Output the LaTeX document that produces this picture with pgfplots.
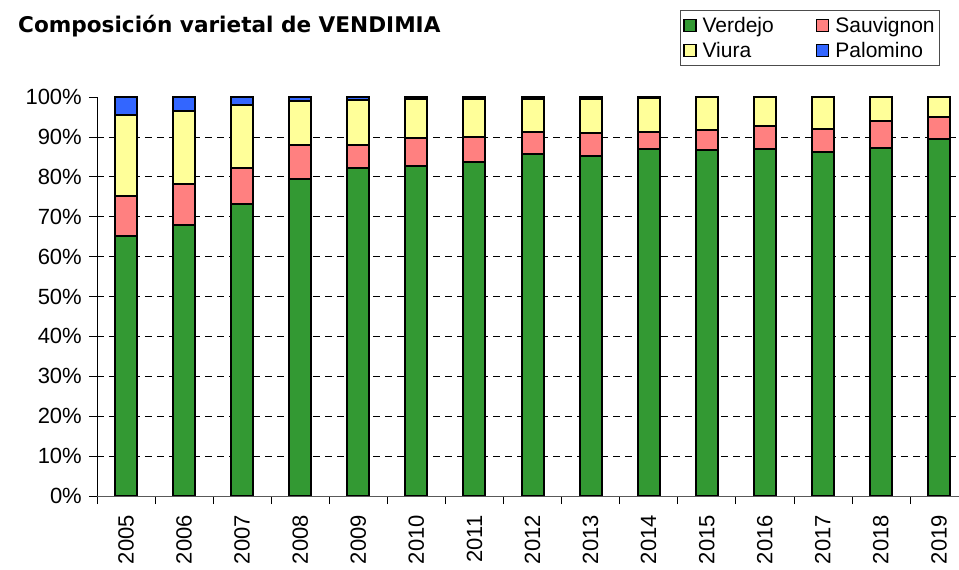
\documentclass[border=0pt]{standalone}
\usepackage{fontspec}
\setmainfont{Liberation Sans}
\newfontfamily\titlefont{DejaVu Sans}
\usepackage{pgfplots}
\pgfplotsset{compat=1.18}
\definecolor{cVer}{HTML}{339933}
\definecolor{cSau}{HTML}{FF8080}
\definecolor{cViu}{HTML}{FFFF99}
\definecolor{cPal}{HTML}{3366FF}
\begin{document}
\begin{tikzpicture}
\useasboundingbox (-97pt,-74pt) rectangle (862pt,496pt);
\begin{axis}[
  scale only axis, width=871pt, height=399pt,
  xmin=-0.5, xmax=14.5, ymin=0, ymax=100,
  ybar stacked, bar width=22pt,
  axis lines*=left,
  x axis line style={draw=gray!70!black, line width=0.8pt},
  y axis line style={draw=black, line width=0.6pt},
  tick align=outside, major tick length=8pt,
  tick style={black, line width=0.6pt},
  xtick={-0.5,0.5,...,14.5},
  x tick label as interval,
  xticklabels={2005,2006,2007,2008,2009,2010,2011,2012,2013,2014,2015,2016,2017,2018,2019},
  x tick label style={rotate=90, anchor=east, inner sep=2pt},
  xticklabel shift=9pt,
  ytick={0,10,...,100},
  yticklabels={0\%,10\%,20\%,30\%,40\%,50\%,60\%,70\%,80\%,90\%,100\%},
  y tick label style={inner sep=2pt},
  yticklabel shift=5pt,
  tick label style={font=\fontsize{22}{24}\selectfont},
  extra y ticks={10,20,...,90},
  extra y tick labels={},
  extra y tick style={grid=major, major tick length=0pt},
  major grid style={black, line width=0.7pt, dash pattern=on 7pt off 5pt},
  legend columns=2,
  legend cell align=left,
  legend style={at={(axis description cs:0.669,1.218)}, anchor=north west,
    draw=gray!60!black, line width=0.6pt, inner xsep=3pt, inner ysep=6pt,
    font=\fontsize{21}{23}\selectfont, row sep=6pt,
    nodes={inner xsep=2pt, inner ysep=1pt},
    /tikz/every odd column/.append style={column sep=4pt},
    /tikz/every even column/.append style={column sep=40pt}},
  legend image code/.code={\draw[#1, line width=1.6pt] (0pt,-6pt) rectangle (12pt,6pt);},
  every axis plot/.append style={draw=black, line width=2pt},
]
\addplot[fill=cVer] coordinates {(0,65.1) (1,68.0) (2,73.2) (3,79.4) (4,82.2) (5,82.8) (6,83.6) (7,85.7) (8,85.3) (9,86.9) (10,86.6) (11,87.0) (12,86.3) (13,87.3) (14,89.4)};
\addplot[fill=cSau] coordinates {(0,10.0) (1,10.2) (2,9.1) (3,8.5) (4,5.8) (5,6.9) (6,6.3) (7,5.5) (8,5.6) (9,4.4) (10,5.1) (11,5.8) (12,5.7) (13,6.8) (14,5.5)};
\addplot[fill=cViu] coordinates {(0,20.4) (1,18.3) (2,15.7) (3,11.1) (4,11.25) (5,9.8) (6,9.6) (7,8.3) (8,8.7) (9,8.5) (10,8.3) (11,7.2) (12,8.0) (13,5.9) (14,5.1)};
\addplot[fill=cPal] coordinates {(0,4.5) (1,3.5) (2,2.0) (3,1.0) (4,0.75) (5,0.5) (6,0.5) (7,0.5) (8,0.4) (9,0.2) (10,0) (11,0) (12,0) (13,0) (14,0)};
\legend{Verdejo,Sauvignon,Viura,Palomino}
\end{axis}
\node[anchor=base west, inner sep=0pt, font=\titlefont\bfseries\fontsize{21.6}{24}\selectfont] at (-79pt,463pt) {Composición varietal de VENDIMIA};
\end{tikzpicture}
\end{document}
